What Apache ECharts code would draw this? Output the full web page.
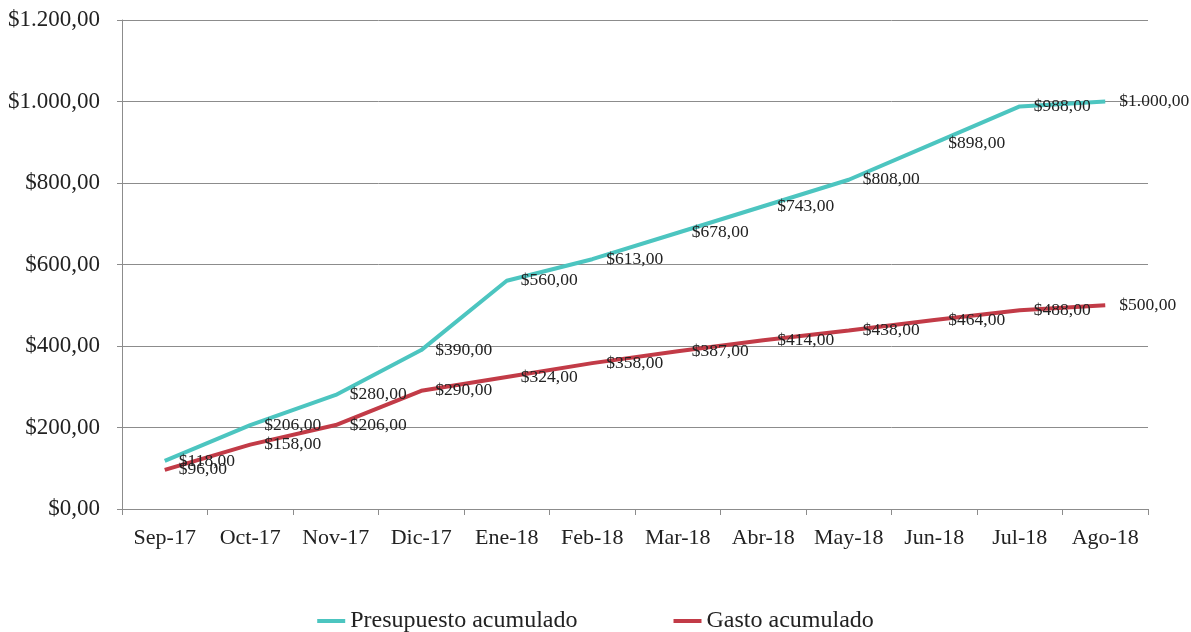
<!DOCTYPE html>
<html><head><meta charset="utf-8">
<script src="https://cdn.jsdelivr.net/npm/echarts@6/dist/echarts.min.js"></script>
<style>html,body{margin:0;padding:0;background:#fff}#c{width:1191px;height:632px}</style>
</head><body><div id="c"></div>
<script>
const categories = ['Sep-17','Oct-17','Nov-17','Dic-17','Ene-18','Feb-18','Mar-18','Abr-18','May-18','Jun-18','Jul-18','Ago-18'];
const presupuesto = [118,206,280,390,560,613,678,743,808,898,988,1000];
const gasto = [96,158,206,290,324,358,387,414,438,464,488,500];
const yTicks = {min:0, max:1200, interval:200};

function fmt(v){
  const s = Math.round(v).toString().replace(/\B(?=(\d{3})+(?!\d))/g,'.');
  return '$' + s + ',00';
}
const font = 'Liberation Serif';
const chart = echarts.init(document.getElementById('c'));
chart.setOption({
  animation:false,
  textStyle:{fontFamily:font},
  grid:{left:122,right:43,top:20,bottom:123},
  legend:{top:604,left:'center',itemWidth:28,itemHeight:4,itemGap:96,icon:'rect',
    textStyle:{fontFamily:font,fontSize:24,color:'#222'},
    data:['Presupuesto acumulado','Gasto acumulado']},
  xAxis:{type:'category',data:categories,boundaryGap:true,
    axisLine:{lineStyle:{color:'#8c8c8c',width:1}},
    axisTick:{show:true,length:6,lineStyle:{color:'#8c8c8c'}},
    axisLabel:{interval:0,fontFamily:font,fontSize:22,color:'#222',margin:18}},
  yAxis:{type:'value',min:yTicks.min,max:yTicks.max,interval:yTicks.interval,
    axisLine:{show:true,lineStyle:{color:'#8c8c8c'}},
    axisTick:{show:true,length:5,lineStyle:{color:'#8c8c8c'}},
    splitLine:{lineStyle:{color:'#8c8c8c',width:1}},
    axisLabel:{fontFamily:font,fontSize:23,color:'#222',margin:22,formatter:fmt}},
  series:[
    {name:'Presupuesto acumulado',type:'line',data:presupuesto,symbol:'circle',symbolSize:0.1,
     lineStyle:{color:'#4cc5c0',width:4},itemStyle:{color:'#4cc5c0'},
     label:{show:true,position:'right',distance:14,fontFamily:font,fontSize:17.5,color:'#222',
       formatter:p=>fmt(p.value)}},
    {name:'Gasto acumulado',type:'line',data:gasto,symbol:'circle',symbolSize:0.1,
     lineStyle:{color:'#c23b47',width:4},itemStyle:{color:'#c23b47'},
     label:{show:true,position:'right',distance:14,fontFamily:font,fontSize:17.5,color:'#222',
       formatter:p=>fmt(p.value)}}
  ]
});
</script></body></html>
